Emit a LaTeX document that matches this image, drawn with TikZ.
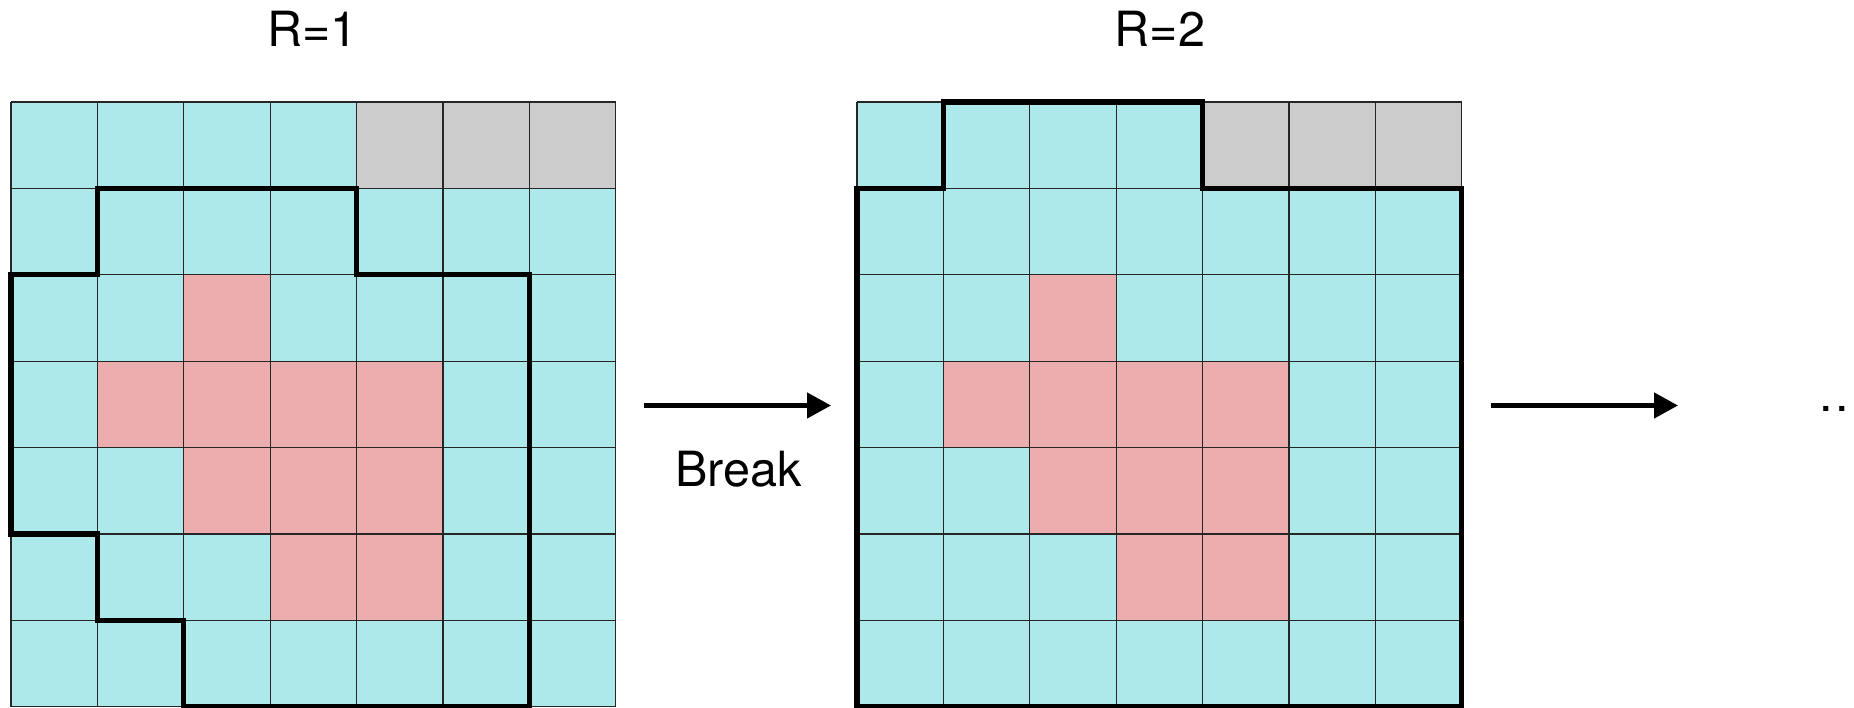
\documentclass[tikz,border=0pt]{standalone}
\usepackage{fontspec}
\setmainfont{TeX Gyre Heros}
\usetikzlibrary{arrows.meta}
\definecolor{cellcyan}{HTML}{ADE8EB}
\definecolor{cellpink}{HTML}{EBADAD}
\definecolor{cellgray}{HTML}{CCCCCC}
\tikzset{
  cellline/.style={draw=black!85, line width=0.35pt},
  region/.style={draw=black, line width=1.45pt, line join=miter},
  flow/.style={draw=black, line width=1.3pt, -{Triangle[length=0.24cm,width=0.25cm]}},
  label14/.style={font=\fontsize{13.8}{16}\selectfont, anchor=base},
}
% fill one grid: #1 = x offset of the grid
\newcommand{\rgrid}[1]{%
  \begin{scope}[shift={(#1,-1.02)}, x=0.864cm, y=-0.864cm]
    \foreach \r in {0,...,6}
      \foreach \c in {0,...,6}
        \fill[cellcyan] (\c,\r) rectangle (\c+1,\r+1);
    \foreach \c in {4,5,6} \fill[cellgray] (\c,0) rectangle (\c+1,1);
    \foreach \c/\r in {2/2, 1/3,2/3,3/3,4/3, 2/4,3/4,4/4, 3/5,4/5}
      \fill[cellpink] (\c,\r) rectangle (\c+1,\r+1);
    \foreach \i in {0,...,7} {
      \draw[cellline] (\i,0) -- (\i,7);
      \draw[cellline] (0,\i) -- (7,\i);
    }
  \end{scope}}
\begin{document}
\begin{tikzpicture}
  \useasboundingbox (0,0) rectangle (18.54,-7.08);

  % round 1
  \rgrid{0.11}
  \begin{scope}[shift={(0.11,-1.02)}, x=0.864cm, y=-0.864cm]
    \draw[region] (1,1) -- (4,1) -- (4,2) -- (6,2) -- (6,7) -- (2,7) -- (2,6)
      -- (1,6) -- (1,5) -- (0,5) -- (0,2) -- (1,2) -- cycle;
  \end{scope}
  \node[label14] (r1) at (3.125,-0.47) {R=1};

  % round 2
  \rgrid{8.57}
  \begin{scope}[shift={(8.57,-1.02)}, x=0.864cm, y=-0.864cm]
    \draw[region] (0,1) -- (1,1) -- (1,0) -- (4,0) -- (4,1) -- (7,1) -- (7,7)
      -- (0,7) -- cycle;
  \end{scope}
  \node[label14] (r2) at (11.6,-0.47) {R=2};

  % transitions
  \coordinate (a1s) at (6.44,-4.055);
  \coordinate (a1e) at (8.31,-4.055);
  \draw[flow] (a1s) -- (a1e);
  \node[label14] (brk) at (7.385,-4.87) {Break};

  \coordinate (a2s) at (14.91,-4.055);
  \coordinate (a2e) at (16.78,-4.055);
  \draw[flow] (a2s) -- (a2e);
  \node[font=\fontsize{13.8}{16}\selectfont, anchor=base west, inner sep=0pt]
    (more) at (18.185,-4.12) {.\kern0.7pt.};
\end{tikzpicture}
\end{document}
